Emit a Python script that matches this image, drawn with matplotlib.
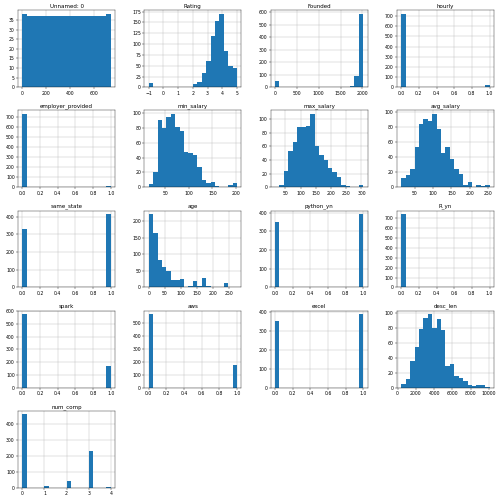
import numpy as np
import matplotlib
matplotlib.use('Agg')
import matplotlib.pyplot as plt

# column names, in the order pandas laid them out
columns = ['Unnamed: 0', 'Rating', 'Founded', 'hourly', 'employer_provided',
           'min_salary', 'max_salary', 'avg_salary', 'same_state', 'age',
           'python_yn', 'R_yn', 'spark', 'aws', 'excel', 'desc_len', 'num_comp']

# data range (min, max) of each column
ranges = {
    'Unnamed: 0': (0, 741),
    'Rating': (-1, 5),
    'Founded': (-1, 2019),
    'hourly': (0, 1),
    'employer_provided': (0, 1),
    'min_salary': (15, 202),
    'max_salary': (16, 306),
    'avg_salary': (13.5, 254),
    'same_state': (0, 1),
    'age': (-1, 276),
    'python_yn': (0, 1),
    'R_yn': (0, 1),
    'spark': (0, 1),
    'aws': (0, 1),
    'excel': (0, 1),
    'desc_len': (407, 10051),
    'num_comp': (0, 4),
}

# counts per bin (20 bins each)
unnamed_counts = [38] + [37] * 18 + [38]
rating_counts = [11, 0, 0, 0, 0, 0, 0, 0, 0, 2, 7, 12, 33, 60, 118, 152, 169, 83, 50, 45]
founded_counts = [50, 0, 0, 0, 0, 0, 0, 0, 0, 0, 0, 0, 0, 0, 0, 0, 0, 12, 95, 585]
hourly_counts = [718] + [0] * 18 + [24]
employer_counts = [729] + [0] * 18 + [13]
min_salary_counts = [4, 21, 90, 79, 94, 98, 81, 75, 47, 46, 44, 27, 10, 6, 7, 2, 1, 1, 3, 6]
max_salary_counts = [1, 3, 24, 53, 66, 88, 88, 89, 107, 60, 48, 40, 28, 22, 15, 4, 2, 1, 0, 3]
avg_salary_counts = [12, 16, 24, 54, 84, 91, 88, 97, 78, 46, 54, 38, 24, 18, 3, 7, 0, 3, 2, 3]
same_state_counts = [328] + [0] * 18 + [414]
age_counts = [222, 166, 84, 62, 50, 23, 22, 27, 1, 5, 20, 3, 28, 3, 0, 1, 0, 13, 0, 1]
python_counts = [350] + [0] * 18 + [392]
r_counts = [740] + [0] * 18 + [2]
spark_counts = [575] + [0] * 18 + [167]
aws_counts = [566] + [0] * 18 + [176]
excel_counts = [354] + [0] * 18 + [388]
desc_len_counts = [5, 12, 36, 55, 79, 94, 99, 81, 92, 78, 29, 32, 15, 13, 9, 3, 2, 4, 3, 1]
num_comp_counts = [460, 0, 0, 0, 0, 11, 0, 0, 0, 0, 42, 0, 0, 0, 0, 228, 0, 0, 0, 1]

counts = {
    'Unnamed: 0': unnamed_counts,
    'Rating': rating_counts,
    'Founded': founded_counts,
    'hourly': hourly_counts,
    'employer_provided': employer_counts,
    'min_salary': min_salary_counts,
    'max_salary': max_salary_counts,
    'avg_salary': avg_salary_counts,
    'same_state': same_state_counts,
    'age': age_counts,
    'python_yn': python_counts,
    'R_yn': r_counts,
    'spark': spark_counts,
    'aws': aws_counts,
    'excel': excel_counts,
    'desc_len': desc_len_counts,
    'num_comp': num_comp_counts,
}

dpi = 33.3
fig, axes = plt.subplots(5, 4, figsize=(500 / dpi, 498 / dpi), dpi=dpi)
fig.subplots_adjust(left=0.036, right=0.988, top=0.979, bottom=0.021,
                    wspace=0.3, hspace=0.3)

axes = axes.ravel()
for i, col in enumerate(columns):
    ax = axes[i]
    lo, hi = ranges[col]
    edges = np.linspace(lo, hi, 21)
    ax.hist(edges[:-1], bins=edges, weights=counts[col])
    ax.set_title(col)
    ax.grid(True)
    ax.set_axisbelow(True)

# hide the unused axes
for ax in axes[len(columns):]:
    ax.set_visible(False)

fig.savefig('out.png', dpi=dpi)
